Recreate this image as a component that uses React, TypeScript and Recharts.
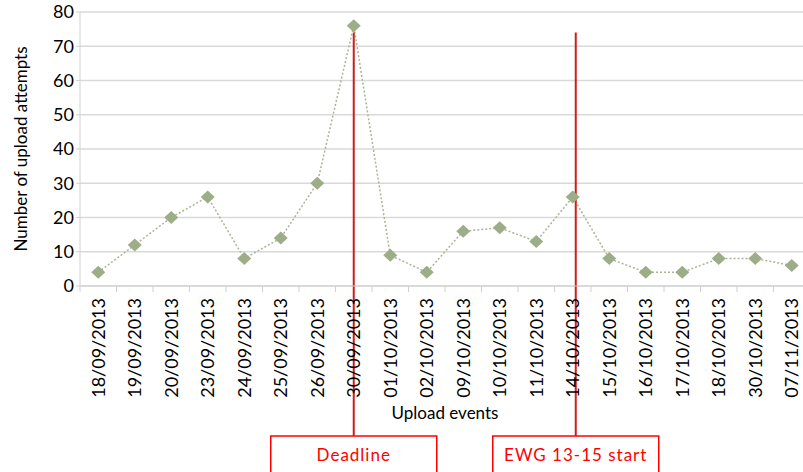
import React from 'react';
import { LineChart, Line, XAxis, YAxis, CartesianGrid, ReferenceLine } from 'recharts';

const dates = ['18/09/2013','19/09/2013','20/09/2013','23/09/2013','24/09/2013','25/09/2013','26/09/2013','30/09/2013','01/10/2013','02/10/2013','09/10/2013','10/10/2013','11/10/2013','14/10/2013','15/10/2013','16/10/2013','17/10/2013','18/10/2013','30/10/2013','07/11/2013'];
const attempts = [4,12,20,26,8,14,30,76,9,4,16,17,13,26,8,4,4,8,8,6];
const yTicks = [0,10,20,30,40,50,60,70,80];
const annotations = [
  { date: '30/09/2013', label: 'Deadline', top: 74, bottom: -43.8, dx: 0 },
  { date: '14/10/2013', label: 'EWG 13-15 start', top: 74, bottom: -43.8, dx: 3 },
];

const data = dates.map((d, i) => ({ date: d, value: attempts[i] }));

const CHART_W = 815;
const LEFT = 80;
const RIGHT_MARGIN = 5;
const BAND = (CHART_W - LEFT - RIGHT_MARGIN) / dates.length;
const FONT = 'Lato, "Liberation Sans", sans-serif';

const Diamond = (props: any) => {
  const { cx, cy } = props;
  if (cx == null || cy == null) return null;
  const w = 7, h = 6.5;
  return <polygon points={`${cx},${cy - h} ${cx + w},${cy} ${cx},${cy + h} ${cx - w},${cy}`} fill="#9cad87" />;
};

const XTick = (props: any) => {
  const { x, y, payload } = props;
  return (
    <g>
      <line x1={x - BAND / 2} y1={y - 8} x2={x - BAND / 2} y2={y - 2} stroke="#d0d0d0" />
      <text x={x} y={y + 4} transform={`rotate(-90, ${x}, ${y + 4})`} textAnchor="end" dy="0.35em" fontSize={18} fontFamily={FONT} fill="#000">{payload.value}</text>
    </g>
  );
};

const makeShape = (label: string, dx: number) => (props: any) => {
  const { x1, y1, y2 } = props;
  const x = x1 + dx;
  const bw = 166, bh = 38;
  return (
    <g>
      <line x1={x} y1={y1} x2={x} y2={y2} stroke="#d01c1c" strokeWidth={2} />
      <rect x={x - bw / 2} y={y2} width={bw} height={bh} fill="#fff" stroke="#ff0000" strokeWidth={1.5} />
      <text x={x} y={y2 + bh / 2 + 2} textAnchor="middle" dominantBaseline="middle" fontSize={17} fontFamily={FONT} fill="#ff0000" letterSpacing={1}>{label}</text>
    </g>
  );
};

export default function App() {
  return (
    <div style={{ position: 'fixed', left: 0, top: 0, width: 803, height: 472, overflow: 'hidden', background: '#fff' }}>
      <LineChart width={CHART_W} height={472} data={data} margin={{ top: 12, right: RIGHT_MARGIN, bottom: 0, left: 0 }}>
        <CartesianGrid vertical={false} stroke="#d9d9d9" strokeWidth={1.5} />
        <XAxis
          dataKey="date"
          height={186}
          interval={0}
          padding={{ left: BAND / 2, right: BAND / 2 }}
          stroke="#d0d0d0"
          tickLine={false}
          tick={<XTick />}
          label={{ value: 'Upload events', position: 'insideTop', offset: 121, fontSize: 17, fontFamily: FONT, fill: '#000' }}
        />
        <YAxis
          width={LEFT}
          domain={[0, 80]}
          ticks={yTicks}
          interval={0}
          stroke="#d0d0d0"
          tickSize={4}
          tick={{ fontSize: 18, fontFamily: FONT, fill: '#000' }}
          label={{ value: 'Number of upload attempts', angle: -90, position: 'insideLeft', offset: 21, dy: 0, fontSize: 17, fontFamily: FONT, fill: '#000', style: { textAnchor: 'middle' } }}
        />
        <Line
          type="linear"
          dataKey="value"
          stroke="#a8b596"
          strokeWidth={1.5}
          strokeDasharray="2 2"
          dot={<Diamond />}
          activeDot={false}
          isAnimationActive={false}
        />
        {annotations.map(a => (
          <ReferenceLine
            key={a.label}
            segment={[{ x: a.date, y: a.top }, { x: a.date, y: a.bottom }]}
            ifOverflow="visible"
            shape={makeShape(a.label, a.dx)}
          />
        ))}
      </LineChart>
    </div>
  );
}
